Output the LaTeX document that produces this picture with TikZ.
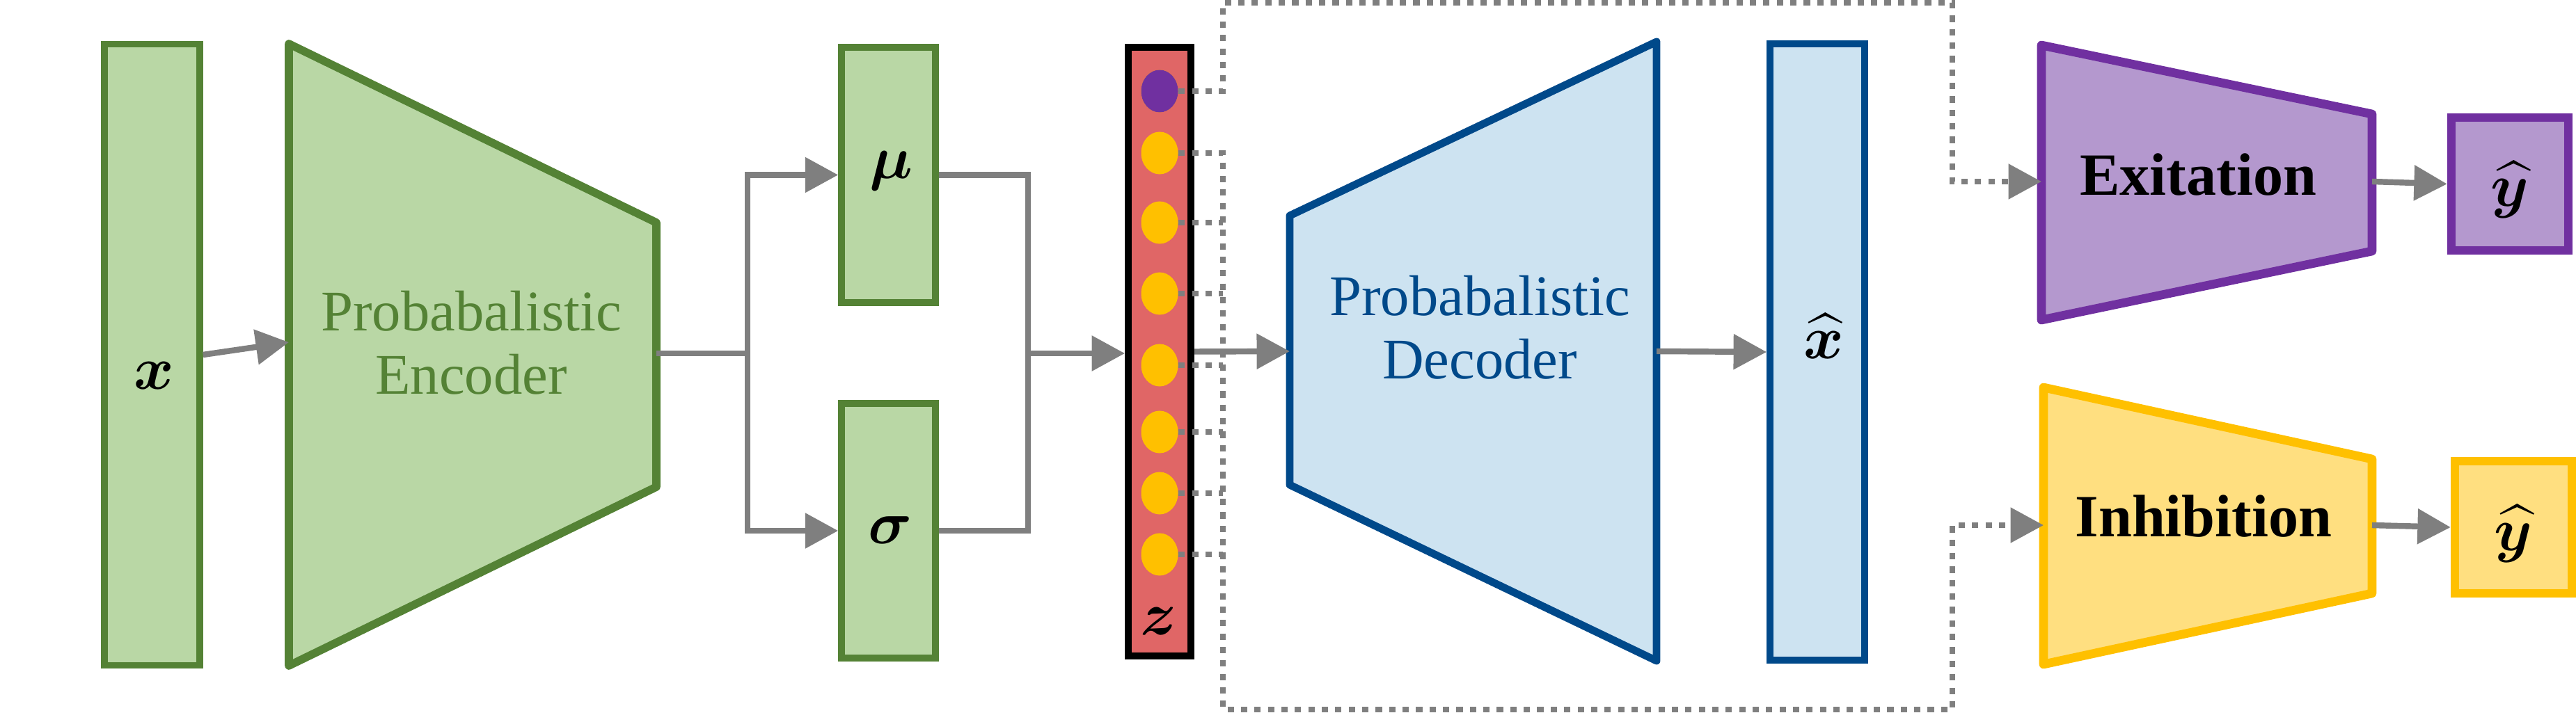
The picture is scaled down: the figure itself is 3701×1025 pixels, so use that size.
\documentclass[tikz,border=0pt]{standalone}
\usepackage{fontspec}
\setmainfont{Liberation Serif}
\usepackage{amsmath,bm}
\usetikzlibrary{arrows.meta,shapes.geometric}
\definecolor{gfill}{HTML}{B9D7A5}
\definecolor{gline}{HTML}{548235}
\definecolor{bfill}{HTML}{CDE3F1}
\definecolor{bline}{HTML}{00498A}
\definecolor{pfill}{HTML}{B498CE}
\definecolor{pline}{HTML}{7030A0}
\definecolor{yfill}{HTML}{FFDF80}
\definecolor{yline}{HTML}{FFC000}
\definecolor{zfill}{HTML}{E06666}
\definecolor{agray}{HTML}{7F7F7F}
\begin{document}
\begin{tikzpicture}[x=0.01cm,y=-0.01cm,
  box/.style={draw, rectangle, inner sep=0pt},
  greenbox/.style={box, fill=gfill, draw=gline, line width=2.7pt},
  trap/.style={line width=3.3pt, line join=round},
  arr/.style={draw=agray, line width=2.4pt, -{Triangle[length=13.5pt,width=14pt]}},
  plain/.style={draw=agray, line width=2.4pt},
  dots/.style={draw=agray, line width=2.3pt, dash pattern=on 2.6pt off 2.9pt},
  dotarr/.style={dots, -{Triangle[length=13.5pt,width=14pt]}},
  circ/.style={ellipse, inner sep=0pt, minimum width=0.53cm, minimum height=0.61cm},
  mlabel/.style={font=\fontsize{30pt}{34pt}\selectfont, anchor=base, inner sep=0pt},
  ttext/.style={font=\fontsize{23.5pt}{26pt}\selectfont, align=center, inner sep=0pt},
  btext/.style={font=\fontsize{24.5pt}{28pt}\selectfont\bfseries, anchor=base, inner sep=0pt}
]
\useasboundingbox (0,0) rectangle (3701,1025);

% input x
\node[greenbox, minimum width=1.37cm, minimum height=8.92cm] (x) at (218.5,510) {};
\node[mlabel] (xl) at (221,560) {$\bm{x}$};

% encoder
\draw[trap, draw=gline, fill=gfill] (415,63) -- (943,320) -- (943,700) -- (415,957) -- cycle;
\coordinate (encL) at (415,492);
\coordinate (encR) at (943,508);
\node[ttext, text=gline] (enct) at (677,493) {Probabalistic\\Encoder};

% mu, sigma
\node[greenbox, minimum width=1.35cm, minimum height=3.67cm] (mu) at (1276.5,251.5) {};
\node[mlabel] (mul) at (1280,257) {$\bm{\mu}$};
\node[greenbox, minimum width=1.35cm, minimum height=3.66cm] (sigma) at (1276.5,763) {};
\node[mlabel] (sigmal) at (1279,781) {$\bm{\sigma}$};

% z
\node[box, fill=zfill, draw=black, line width=2.8pt, minimum width=0.9cm, minimum height=8.75cm] (z) at (1666,505.5) {};
\node[mlabel] (zl) at (1665,912) {$\bm{z}$};
\foreach \i/\yy in {1/131,2/220,3/320,4/422,5/525,6/621,7/709,8/797}{
  \node[circ, fill=yline] (c\i) at (1666,\yy) {};
}
\node[circ, fill=pline] (c1) at (1666,131) {};

% decoder
\draw[trap, line width=3.1pt, draw=bline, fill=bfill] (1853,310) -- (2380,60) -- (2380,950) -- (1853,697) -- cycle;
\coordinate (decL) at (1853,505);
\coordinate (decR) at (2380,505);
\node[ttext, text=bline] (dect) at (2126,471) {Probabalistic\\Decoder};

% xhat
\node[box, fill=bfill, draw=bline, line width=2.8pt, minimum width=1.36cm, minimum height=8.86cm] (xhat) at (2611,506) {};
\node[mlabel] (xhatl) at (2620,516) {$\widehat{\bm{x}}$};

% exitation
\draw[trap, line width=3.6pt, draw=pline, fill=pfill] (2933,65) -- (3408,164) -- (3408,361) -- (2933,460) -- cycle;
\coordinate (excL) at (2933,261);
\coordinate (excR) at (3408,261);
\node[btext] (exct) at (3158,281) {Exitation};
\node[box, fill=pfill, draw=pline, line width=3.5pt, minimum width=1.68cm, minimum height=1.91cm] (y1) at (3606,264.5) {};
\node[mlabel] (y1l) at (3606,297) {$\widehat{\bm{y}}$};

% inhibition
\draw[trap, line width=3.6pt, draw=yline, fill=yfill] (2936,557) -- (3408,660) -- (3408,853) -- (2936,955) -- cycle;
\coordinate (inhL) at (2936,755);
\coordinate (inhR) at (3408,755);
\node[btext] (inht) at (3166,771) {Inhibition};
\node[box, fill=yfill, draw=yline, line width=3.5pt, minimum width=1.68cm, minimum height=1.90cm] (y2) at (3611,758) {};
\node[mlabel] (y2l) at (3611,791) {$\widehat{\bm{y}}$};

% solid connectors
\draw[arr] (x.east) -- (encL);
\coordinate (split) at (1074,508);
\draw[plain] (encR) -- (split);
\draw[arr] (split) |- (mu.west);
\draw[arr] (split) |- (sigma.west);
\coordinate (join) at (1477,508);
\draw[plain] (mu.east) -| (join) |- (sigma.east);
\draw[arr] (join) -- (join -| z.west);
\draw[arr] (z.east) -- (decL);
\draw[arr] (decR) -- (xhat.west);
\draw[arr] (excR) -- (y1.west);
\draw[arr] (inhR) -- (y2.west);

% dotted connectors
\coordinate (vt) at (1757,4);
\coordinate (vb) at (1757,1020);
\coordinate (rt) at (2805,4);
\coordinate (rb) at (2805,1020);
\draw[dotarr] (c1.east) -| (vt) -- (rt) |- (excL);
\draw[dotarr] (c2.east) -| (vb) -- (rb) |- (inhL);
\foreach \i in {3,...,8}{
  \draw[dots] (c\i.east) -- (c\i.east -| vb);
}
\end{tikzpicture}
\end{document}
